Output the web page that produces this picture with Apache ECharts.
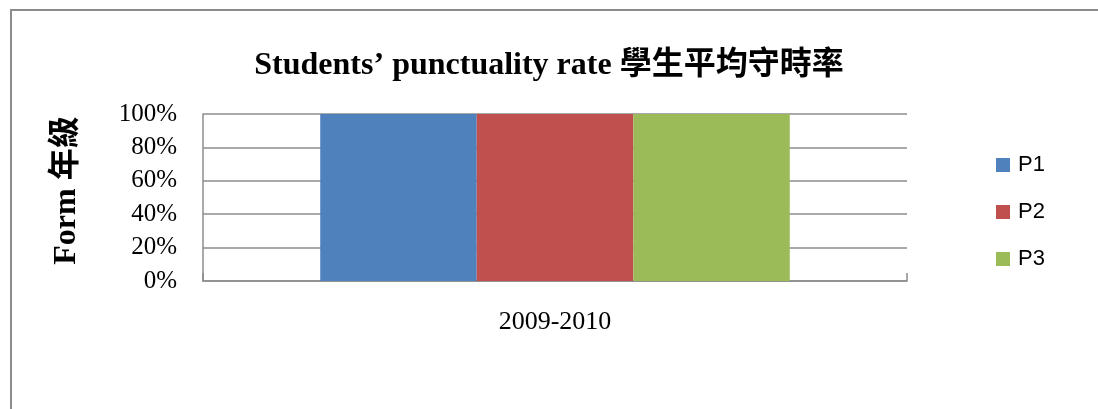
<!DOCTYPE html>
<html>
<head>
<meta charset="utf-8">
<style>
  html, body { margin: 0; padding: 0; background: #fff; }
  #chart { width: 1098px; height: 409px; }
</style>
<script src="https://cdn.jsdelivr.net/npm/echarts@6/dist/echarts.min.js"></script>
</head>
<body>
<div id="chart"></div>
<script>
const titleText = 'Students\u2019 punctuality rate 學生平均守時率';
const yAxisName = 'Form 年級';
const categories = ['2009-2010'];
const seriesNames = ['P1', 'P2', 'P3'];
const p1Values = [100];
const p2Values = [100];
const p3Values = [100];
const seriesColors = ['#4F81BD', '#C0504D', '#9BBB59'];

const serif = '"Liberation Serif", "Times New Roman", "Noto Sans CJK TC", serif';
const gray = '#8c8c8c';

const chart = echarts.init(document.getElementById('chart'), null, { renderer: 'canvas' });
const valueSets = [p1Values, p2Values, p3Values];

chart.setOption({
  animation: false,
  backgroundColor: '#fff',
  graphic: [{
    type: 'rect',
    shape: { x: 11, y: 10, width: 1300, height: 600 },
    style: { fill: 'none', stroke: gray, lineWidth: 2 },
    silent: true
  }],
  title: {
    text: titleText,
    left: 'center',
    top: 45,
    textStyle: { fontFamily: serif, fontWeight: 'bold', fontSize: 32, color: '#000' }
  },
  legend: {
    orient: 'vertical',
    left: 996,
    top: 154,
    padding: 0,
    itemWidth: 14,
    itemHeight: 14,
    itemGap: 25,
    icon: 'rect',
    data: seriesNames,
    textStyle: { fontFamily: '"Liberation Sans", Arial, sans-serif', fontSize: 22, color: '#000', padding: [0, 0, 0, 3] }
  },
  grid: { left: 203, right: 191, top: 114, bottom: 128, containLabel: false },
  xAxis: {
    type: 'category',
    data: categories,
    axisLine: { show: true, lineStyle: { color: gray, width: 1.5 } },
    axisTick: { show: true, inside: true, length: 8, lineStyle: { color: gray, width: 1.5 } },
    axisLabel: { fontFamily: serif, fontSize: 26, color: '#000', margin: 28 },
    splitLine: { show: false }
  },
  yAxis: {
    type: 'value',
    min: 0,
    max: 100,
    interval: 20,
    name: yAxisName,
    nameLocation: 'middle',
    nameRotate: 90,
    nameGap: 120,
    nameTextStyle: { fontFamily: serif, fontWeight: 'bold', fontSize: 32, color: '#000', padding: [0, 0, 0, 14] },
    axisLine: { show: true, lineStyle: { color: gray, width: 1.5 } },
    axisTick: { show: false },
    axisLabel: { fontFamily: serif, fontSize: 25, color: '#000', margin: 26, formatter: '{value}%' },
    splitLine: { show: true, lineStyle: { color: gray, width: 1.5 } }
  },
  series: seriesNames.map((name, i) => ({
    name: name,
    type: 'bar',
    data: valueSets[i],
    barGap: '0%',
    barCategoryGap: '33.3%',
    itemStyle: { color: seriesColors[i] }
  }))
});
</script>
</body>
</html>
